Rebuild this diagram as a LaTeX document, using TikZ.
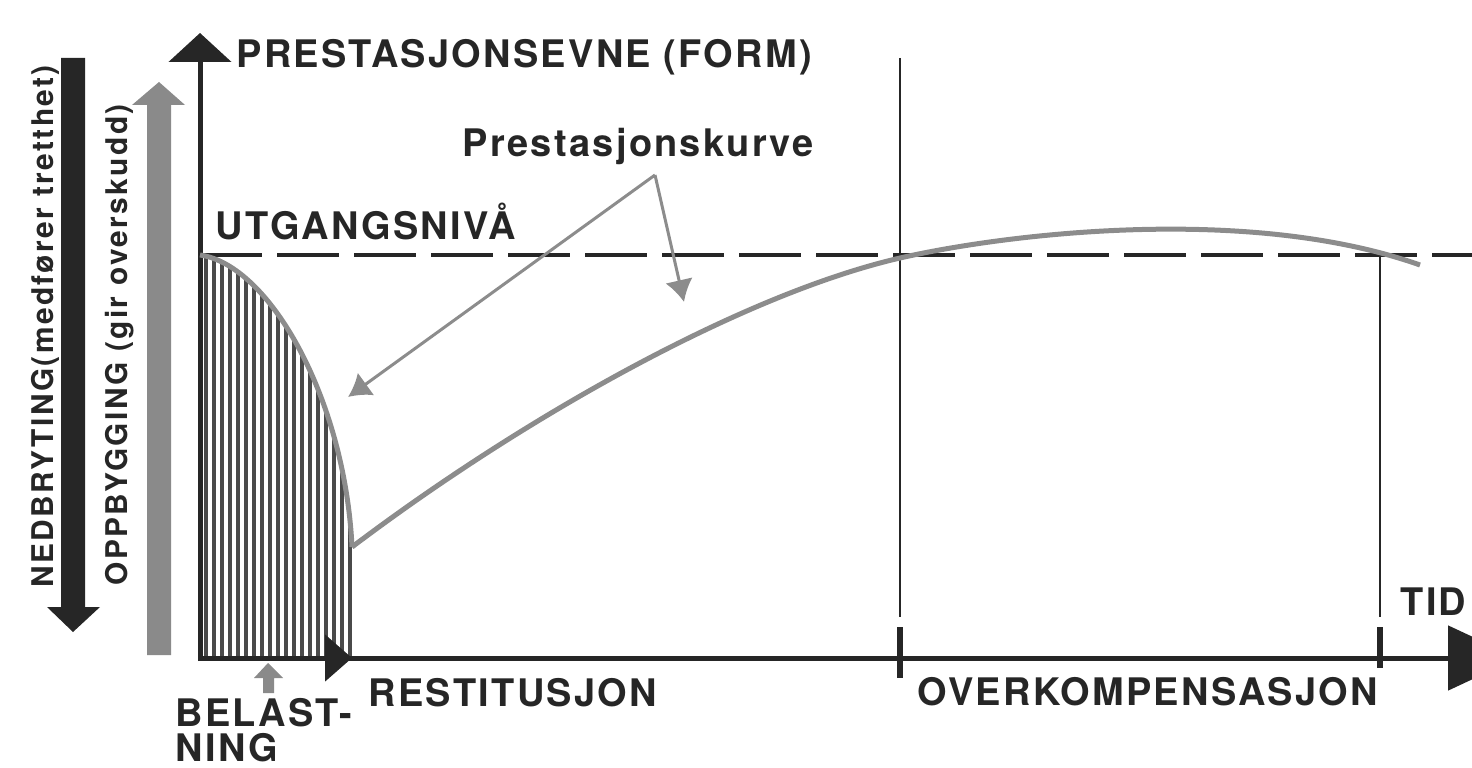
\documentclass[tikz,border=0pt]{standalone}
\usepackage{fontspec}
\setsansfont{TeX Gyre Heros}
\newfontfamily\axisfont{TeX Gyre Heros}[LetterSpace=6]
\newfontfamily\sidefont{TeX Gyre Heros}[LetterSpace=8]
\usepackage{xcolor}
\definecolor{inkdark}{HTML}{262626}
\definecolor{curvegray}{HTML}{8C8C8C}
\definecolor{hatchgray}{HTML}{4A4A4A}
\definecolor{blockgray}{HTML}{8A8A8A}
\usepackage{tikz}
\usetikzlibrary{arrows.meta}

\begin{document}
\begin{tikzpicture}[x=0.1mm,y=-0.1mm,>=Latex,
    lbl/.style={inner sep=0pt,text=inkdark,anchor=base west,font=\axisfont\bfseries\fontsize{10.8}{10}\selectfont},
    sidelbl/.style={inner sep=0pt,text=inkdark,rotate=90,anchor=base west,font=\sidefont\bfseries\fontsize{8.5}{10}\selectfont},
    axisline/.style={inkdark,line width=0.5mm},
    phaseline/.style={inkdark,line width=0.28mm},
    phasetick/.style={inkdark,line width=0.65mm},
    hatch/.style={hatchgray,line width=0.36mm},
    kurve/.style={curvegray,line width=0.5mm},
    pointer/.style={curvegray,line width=0.3mm,-{Latex[length=2.2mm,width=2.8mm]}}]
    \useasboundingbox (0,0) rectangle (1472,768);
    % axes and reference points
    \coordinate (O) at (200,658);
    \coordinate (start) at (200,255);
    \coordinate (cusp) at (352,547);
    \coordinate (cross) at (900,258);
    \coordinate (fork) at (655,175);
    % hatched load area
    \begin{scope}
      \clip (O) -- (start) .. controls (270,265) and (345,400) .. (cusp) -- (352,658) -- cycle;
      \foreach \hx in {206,214,...,350}
        \draw[hatch] (\hx,660) -- (\hx,250);
    \end{scope}
    \draw[inkdark,line width=0.4mm,dash pattern=on 6.2mm off 1.5mm] (start) -- (1472,255);
    \draw[phaseline] (900,58) -- (900,617);
    \draw[phasetick] (900,627) -- (900,678);
    \draw[phaseline] (1380,252) -- (1380,617);
    \draw[phasetick] (1380,627) -- (1380,668);
    \draw[axisline,-{Triangle[length=7mm,width=6.4mm]}] (O) -- (1518,658);
    \draw[axisline,-{Triangle[length=2.7mm,width=4.6mm]}] (O) -- (352,658);
    \draw[axisline,-{Triangle[length=2.9mm,width=6.2mm]}] (200,661) -- (200,33);
    % performance curve
    \draw[kurve] (start) .. controls (270,265) and (345,400) .. (cusp);
    \draw[kurve] (cusp) .. controls (520,420) and (740,295) .. (cross)
                 .. controls (1010,233) and (1250,205) .. (1420,265);
    % side arrows
    \fill[inkdark] (61,58) -- (61,607) -- (47,607) -- (73,632) -- (100,607) -- (85,607) -- (85,58) -- cycle;
    \fill[blockgray] (147,655) -- (147,105) -- (132,105) -- (159,82) -- (185,105) -- (171,105) -- (171,655) -- cycle;
    \fill[blockgray] (263,693) -- (263,678) -- (254,678) -- (268,663) -- (283,678) -- (274,678) -- (274,693) -- cycle;
    \node[sidelbl] (nedbryt) at (53,588) {NEDBRYTING(medfører tretthet)};
    \node[sidelbl] (oppbygg) at (127,586) {OPPBYGGING (gir overskudd)};
    % labels
    \node[lbl] (prest) at (236,68) {PRESTASJONSEVNE (FORM)};
    \node[lbl] (kurvetxt) at (462,157) {Prestasjonskurve};
    \node[lbl] (utgang) at (215,240) {UTGANGSNIVÅ};
    \node[lbl] (restit) at (368,706) {RESTITUSJON};
    \node[lbl] (overk) at (917,705) {OVERKOMPENSASJON};
    \node[lbl,anchor=north west,align=left] (belast) at (175,698) {BELAST-\\NING};
    \node[lbl] (tid) at (1400,615) {TID};
    \draw[pointer] (fork) -- (348,397);
    \draw[pointer] (fork) -- (684,302);
  \end{tikzpicture}
\end{document}
